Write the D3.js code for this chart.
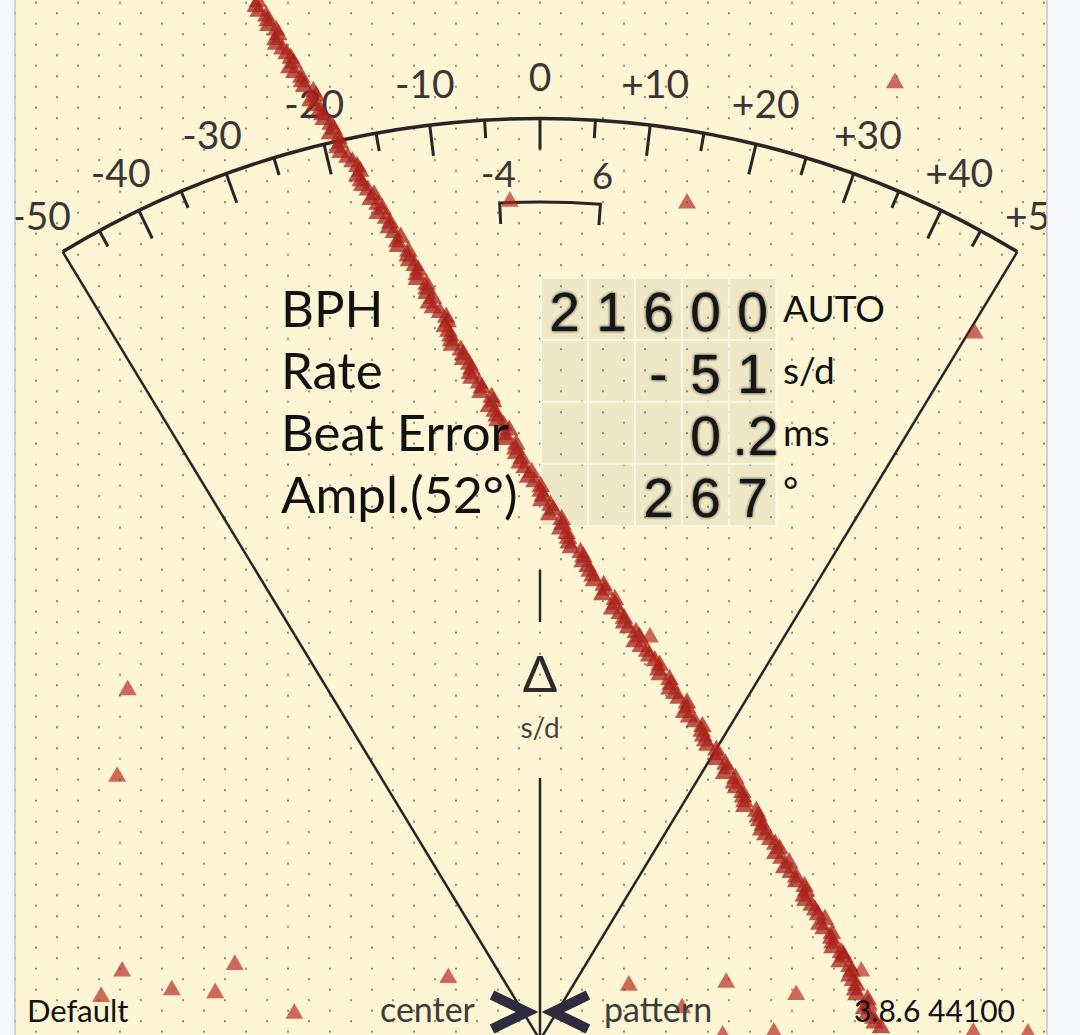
<!DOCTYPE html>
<html><head><meta charset="utf-8">
<script src="https://cdn.jsdelivr.net/npm/d3@7"></script>
<style>html,body{margin:0;padding:0;background:#f7f8fc;}svg{display:block;}</style>
</head><body>
<script>
// ---------------- data ----------------
const majorTicks = [-50,-40,-30,-20,-10,0,10,20,30,40,50];
const minorTicks = [-45,-35,-25,-15,-5,5,15,25,35,45];
const tickLabels = ["-50","-40","-30","-20","-10","0","+10","+20","+30","+40","+50"];
const bracketRange = [-4, 6];
const bracketLabels = ["-4", "6"];

const rowLabels = ["BPH", "Rate", "Beat Error", "Ampl.(52°)"];
const rowDigits = [
  ["2","1","6","0","0"],
  ["","","-","5","1"],
  ["","","","0",".2"],
  ["","","2","6","7"]
];
const rowUnits = ["AUTO", "s/d", "ms", "°"];

// beat trace: offset in ms for successive "tick" beats (one per beat number 0..109)
const tickMs = [
 -4.03,-4.02,-3.89,-3.77,-3.78,-3.68,-3.56,-3.58,-3.41,-3.37,
 -3.20,-3.22,-3.11,-2.99,-3.00,-2.86,-2.85,-2.68,-2.57,-2.56,
 -2.46,-2.42,-2.25,-2.20,-2.16,-1.99,-2.03,-1.89,-1.79,-1.76,
 -1.62,-1.62,-1.59,-1.43,-1.32,-1.31,-1.27,-1.13,-1.10,-0.98,
 -0.98,-0.83,-0.69,-0.73,-0.62,-0.52,-0.50,-0.34,-0.34,-0.29,
 -0.12,-0.08, 0.01, 0.02, 0.19, 0.31, 0.29, 0.40, 0.44, 0.62,
  0.68, 0.75, 0.91, 0.89, 1.07, 1.14, 1.20, 1.37, 1.35, 1.53,
  1.64, 1.69, 1.85, 1.85, 1.98, 2.10, 2.13, 2.32, 2.33, 2.39,
  2.53, 2.65, 2.63, 2.77, 2.89, 2.92, 3.09, 3.13, 3.16, 3.29,
  3.42, 3.45, 3.49, 3.66, 3.78, 3.77, 3.88, 3.97, 3.99, 4.17,
  4.18, 4.30, 4.28, 4.45, 4.47, 4.50, 4.68, 4.63, 4.76, 4.87
];
// "tock" beats, each half a beat after the matching tick
const tockMs = [
 -4.06,-3.91,-3.88,-3.74,-3.77,-3.62,-3.52,-3.51,-3.40,-3.24,
 -3.28,-3.14,-3.09,-2.95,-2.88,-2.89,-2.75,-2.61,-2.61,-2.54,
 -2.37,-2.32,-2.32,-2.14,-2.09,-2.04,-1.88,-1.87,-1.74,-1.76,
 -1.62,-1.53,-1.53,-1.34,-1.36,-1.28,-1.26,-1.10,-1.01,-1.00,
 -0.87,-0.85,-0.67,-0.65,-0.61,-0.44,-0.49,-0.35,-0.26,-0.22,
 -0.17, 0.01, 0.04, 0.15, 0.13, 0.32, 0.38, 0.41, 0.58, 0.61,
  0.71, 0.77, 0.93, 1.07, 1.03, 1.20, 1.26, 1.42, 1.44, 1.56,
  1.71, 1.71, 1.87, 1.92, 2.10, 2.06, 2.21, 2.31, 2.36, 2.52,
  2.52, 2.67, 2.79, 2.80, 2.90, 2.92, 3.12, 3.18, 3.22, 3.36,
  3.36, 3.56, 3.58, 3.66, 3.80, 3.79, 3.93, 4.07, 4.05, 4.16,
  4.18, 4.34, 4.42, 4.42, 4.52, 4.52, 4.69, 4.68, 4.78
];
// stray (noise) beats: offset in ms and beat number
const strayMs   = [5.07,-0.43,2.10,6.21,1.57,-5.89,-6.04,-5.97,-6.27,-5.26,-4.64,-4.36,-3.51,-1.31,1.27,2.03,2.66,3.66,3.34,2.61,6.19,6.97,4.33,4.59];
const strayBeat = [8.6,21.2,21.4,35.2,67.5,73.1,82.3,103.0,105.7,105.0,105.3,102.3,107.5,103.7,104.5,106.9,104.2,105.5,109.5,109.8,109.5,109.6,101.2,103.0];

const footer = {left:"Default", center:"center", pattern:"pattern", right:"3.8.6 44100"};

// ---------------- drawing ----------------
const W = 1080, H = 1035;
const FONT = "Lato, 'Noto Sans', sans-serif";
const DIGIT_FONT = "'Liberation Sans', Arial, sans-serif";
const svg = d3.select("body").append("svg").attr("width", W).attr("height", H);
const defs = svg.append("defs");
defs.append("clipPath").attr("id","area").append("rect").attr("x",15).attr("y",0).attr("width",1032).attr("height",H);
const soft = defs.append("filter").attr("id","soft").attr("x","-20%").attr("y","-20%").attr("width","140%").attr("height","140%");
soft.append("feGaussianBlur").attr("in","SourceGraphic").attr("stdDeviation",1.5).attr("result","b");
const fm = soft.append("feMerge");
fm.append("feMergeNode").attr("in","b");
fm.append("feMergeNode").attr("in","SourceGraphic");

// side strips
svg.append("rect").attr("width",W).attr("height",H).attr("fill","#f7f8fc");
const g = svg.append("g").attr("clip-path","url(#area)");
g.append("rect").attr("x",15).attr("y",0).attr("width",1032).attr("height",H).attr("fill","#fdf5d3");
svg.append("line").attr("x1",15).attr("x2",15).attr("y1",0).attr("y2",H).attr("stroke","#bcc6cc").attr("stroke-width",1.5);
svg.append("line").attr("x1",1047).attr("x2",1047).attr("y1",0).attr("y2",H).attr("stroke","#bcc6cc").attr("stroke-width",1.5);

// dotted background (staggered)
const dots = [];
for (let y = 2.7, r = 0; y < H; y += 10.5, r++) {
  for (let x = (r % 2 ? 15 : 36); x <= 1047; x += 42) dots.push([x, y]);
}
g.append("g").selectAll("rect").data(dots).join("rect")
  .attr("x", d => d[0]-1).attr("y", d => d[1]-1).attr("width",2).attr("height",2)
  .attr("fill","#8d8a72");

// table cells
const cellX = d3.scaleBand().domain(d3.range(5)).range([541, 776]);
const cellY = d3.scaleBand().domain(d3.range(4)).range([278, 526]);
const cells = [];
rowDigits.forEach((row, ri) => row.forEach((_, ci) => cells.push({ri, ci})));
g.append("g").selectAll("rect").data(cells).join("rect")
  .attr("x", d => cellX(d.ci)).attr("y", d => cellY(d.ri))
  .attr("width", cellX.bandwidth()).attr("height", cellY.bandwidth())
  .attr("fill","rgba(150,145,115,0.13)")
  .attr("stroke","rgba(255,253,240,0.7)").attr("stroke-width",1.5);

// dial geometry
const cx = 540, cy = 1040, R = 921.5, K = 85;
const angDeg = d3.scaleLinear().domain([-Math.atan(50/K), Math.atan(50/K)]).range([-31.2, 31.2]);
const ang = v => angDeg(Math.atan(v / K)) * Math.PI / 180;
const pt = (v, r) => [cx + r * Math.sin(ang(v)), cy - r * Math.cos(ang(v))];
const ink = "#2a2424";
const dial = g.append("g");

const arcP = d3.path();
const a0 = pt(-50, R);
arcP.moveTo(a0[0], a0[1]);
arcP.arc(cx, cy, R, ang(-50) - Math.PI/2, ang(50) - Math.PI/2);
dial.append("path").attr("d", arcP.toString()).attr("fill","none").attr("stroke",ink).attr("stroke-width",3.5);

// sector lines
[-50, 50].forEach(v => {
  const p = pt(v, R);
  dial.append("line").attr("x1",p[0]).attr("y1",p[1]).attr("x2",cx).attr("y2",cy)
    .attr("stroke",ink).attr("stroke-width",2.5);
});
// ticks
const tickData = majorTicks.filter(v => Math.abs(v) < 50).map(v => ({v, len:31}))
  .concat(minorTicks.map(v => ({v, len:18})));
dial.selectAll("line.tick").data(tickData).join("line").attr("class","tick")
  .attr("x1", d => pt(d.v, R)[0]).attr("y1", d => pt(d.v, R)[1])
  .attr("x2", d => pt(d.v, R - d.len)[0]).attr("y2", d => pt(d.v, R - d.len)[1])
  .attr("stroke", ink).attr("stroke-width", 3);
// tick labels
dial.selectAll("text.tl").data(majorTicks).join("text").attr("class","tl")
  .attr("x", d => pt(d, 963)[0]).attr("y", d => pt(d, 963)[1]).attr("dy","0.36em")
  .attr("text-anchor","middle").attr("font-family",FONT).attr("font-size",39)
  .attr("fill","#3b3535").text((d, i) => tickLabels[i]);

// bracket
const rB = 838, rB2 = 817;
const bp = d3.path();
const b0 = pt(bracketRange[0], rB2), b1 = pt(bracketRange[0], rB), b3 = pt(bracketRange[1], rB2);
bp.moveTo(b0[0], b0[1]); bp.lineTo(b1[0], b1[1]);
bp.arc(cx, cy, rB, ang(bracketRange[0]) - Math.PI/2, ang(bracketRange[1]) - Math.PI/2);
bp.lineTo(b3[0], b3[1]);
dial.append("path").attr("d", bp.toString()).attr("fill","none").attr("stroke",ink).attr("stroke-width",3);
dial.selectAll("text.bl").data(bracketRange).join("text").attr("class","bl")
  .attr("x", d => pt(d, 867)[0]).attr("y", d => pt(d, 867)[1]).attr("dy","0.36em")
  .attr("text-anchor","middle").attr("font-family",FONT).attr("font-size",37)
  .attr("fill","#3b3535").text((d, i) => bracketLabels[i]);

// center marks
dial.append("line").attr("x1",cx).attr("x2",cx).attr("y1",570).attr("y2",622).attr("stroke",ink).attr("stroke-width",2.5);
dial.append("line").attr("x1",cx).attr("x2",cx).attr("y1",778).attr("y2",H).attr("stroke",ink).attr("stroke-width",2.5);
dial.append("text").attr("x",cx).attr("y",692).attr("text-anchor","middle").attr("font-family",FONT)
  .attr("font-size",51).attr("fill","#2e2a2a").text("Δ");
dial.append("text").attr("x",cx).attr("y",738).attr("text-anchor","middle").attr("font-family",FONT)
  .attr("font-size",28).attr("fill","#444").text("s/d");

// beat trace
const xs = d3.scaleLinear().domain([-7.5, 7.5]).range([15, 1065]);
const ys = d3.scaleLinear().domain([0, tickMs.length - 1]).range([2, 1027.8]);
const tri = d3.symbol(d3.symbolTriangle, 140);
const triB = d3.symbol(d3.symbolTriangle, 150);
const tg = g.append("g");
tg.selectAll("path.st").data(strayMs).join("path").attr("class","st")
  .attr("d", tri).attr("transform", (d, i) => `translate(${xs(d)},${ys(strayBeat[i])})`)
  .attr("fill","#b5261e").attr("fill-opacity",0.68);
tg.selectAll("path.tk").data(tickMs).join("path").attr("class","tk")
  .attr("d", triB).attr("transform", (d, i) => `translate(${xs(d)},${ys(i)})`)
  .attr("fill","#a8221b").attr("fill-opacity",0.75);
tg.selectAll("path.tc").data(tockMs).join("path").attr("class","tc")
  .attr("d", triB).attr("transform", (d, i) => `translate(${xs(d)},${ys(i + 0.5)})`)
  .attr("fill","#a8221b").attr("fill-opacity",0.75);

// panel text
const panel = g.append("g").attr("font-family",FONT);
panel.selectAll("text.lab").data(rowLabels).join("text").attr("class","lab")
  .attr("x",281).attr("y",(d,i) => cellY(i) + 49).attr("font-size",51).attr("fill","#111").text(d => d);
const digitData = [];
rowDigits.forEach((row, ri) => row.forEach((t, ci) => { if (t) digitData.push({t, ri, ci}); }));
panel.selectAll("text.dig").data(digitData).join("text").attr("class","dig")
  .attr("x", d => cellX(d.ci) + cellX.bandwidth()/2 + (d.t.length > 1 ? 3 : 0))
  .attr("y", d => cellY(d.ri) + 53).attr("text-anchor","middle")
  .attr("font-family",DIGIT_FONT)
  .attr("font-size",55).attr("fill","#161414").attr("filter","url(#soft)").text(d => d.t);
panel.selectAll("text.unit").data(rowUnits).join("text").attr("class","unit")
  .attr("x",783).attr("y",(d,i) => cellY(i) + (d === "°" ? 40 : 44)).attr("font-size",37).attr("fill","#111").text(d => d);

// footer
const ft = g.append("g").attr("font-family",FONT);
ft.append("text").attr("x",27).attr("y",1022).attr("font-size",31).attr("fill","#111").text(footer.left);
ft.append("text").attr("x",475).attr("y",1022).attr("text-anchor","end").attr("font-size",34).attr("fill","#3d3d3d").text(footer.center);
ft.append("text").attr("x",604).attr("y",1022).attr("font-size",34).attr("fill","#3d3d3d").text(footer.pattern);
ft.append("text").attr("x",1015).attr("y",1022).attr("text-anchor","end").attr("font-size",30).attr("fill","#111").text(footer.right);
const chev = g.append("g").attr("fill","none").attr("stroke","#2d2b3d").attr("stroke-width",10).attr("stroke-linejoin","miter");
chev.append("path").attr("d","M492,995 L527,1012 L492,1029");
chev.append("path").attr("d","M588,995 L553,1012 L588,1029");
</script>
</body></html>
